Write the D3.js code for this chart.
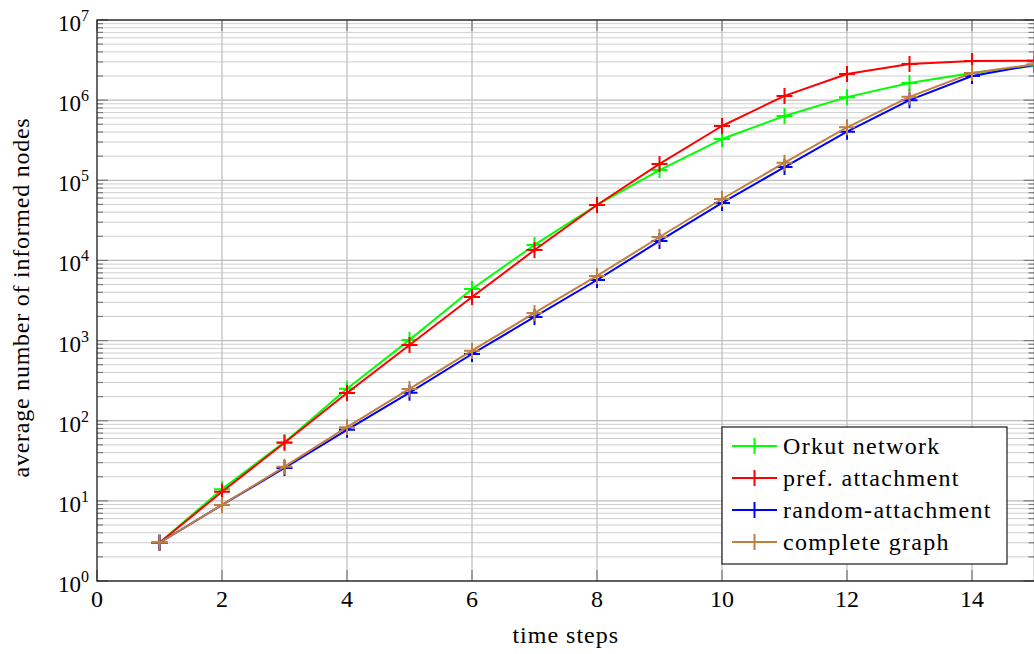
<!DOCTYPE html>
<html>
<head>
<meta charset="utf-8">
<script src="https://cdn.jsdelivr.net/npm/d3@7"></script>
<style>
  html, body { margin: 0; padding: 0; background: #fff; overflow: hidden; }
</style>
</head>
<body>
<div id="chart"></div>
<script>
// time steps on the x axis
const steps = [1, 2, 3, 4, 5, 6, 7, 8, 9, 10, 11, 12, 13, 14, 15];

// average number of informed nodes per model
const orkut = [3, 14, 54, 250, 1020, 4400, 15600, 49200, 134000, 327000, 635000, 1090000, 1640000, 2180000, 2670000];
const prefAttachment = [3, 13, 53, 222, 880, 3500, 13500, 49200, 160000, 476000, 1130000, 2120000, 2830000, 3080000, 3100000];
const randomAttachment = [3, 8.9, 25.7, 77, 224, 680, 1970, 5700, 17500, 52100, 146000, 404000, 1000000, 2000000, 2750000];
const completeGraph = [3, 8.9, 26.7, 83, 249, 748, 2210, 6400, 19600, 58400, 166000, 458000, 1100000, 2180000, 2800000];

const seriesNames = ["Orkut network", "pref. attachment", "random-attachment", "complete graph"];
const seriesColors = ["#00ff00", "#ff0000", "#0000ff", "#bf8040"];

const xTicks = [0, 2, 4, 6, 8, 10, 12, 14];
const yExponents = [0, 1, 2, 3, 4, 5, 6, 7];

const width = 1034;
const height = 654;
const margin = { top: 20, right: -0.5, bottom: 73, left: 97 };

const svg = d3.select("#chart").append("svg")
    .attr("width", width)
    .attr("height", height)
    .attr("font-family", "'Times New Roman', 'Liberation Serif', serif");

const x = d3.scaleLinear().domain([0, 15]).range([margin.left, width - margin.right]);
const y = d3.scaleLog().domain([1, 1e7]).range([height - margin.bottom, margin.top]);

const x0 = x.range()[0], x1 = x.range()[1];
const y0 = y.range()[0], y1 = y.range()[1];

// minor values between decades
const minorVals = [];
for (let e = 0; e < 7; e++) {
    for (let m = 2; m <= 9; m++) minorVals.push(m * Math.pow(10, e));
}

const grid = svg.append("g");

grid.selectAll("line.ymin")
    .data(minorVals)
    .enter()
    .append("line")
    .attr("x1", x0).attr("x2", x1)
    .attr("y1", d => y(d)).attr("y2", d => y(d))
    .style("stroke", "#cfcfcf")
    .style("stroke-width", 1);

grid.selectAll("line.ymaj")
    .data(yExponents)
    .enter()
    .append("line")
    .attr("x1", x0).attr("x2", x1)
    .attr("y1", d => y(Math.pow(10, d))).attr("y2", d => y(Math.pow(10, d)))
    .style("stroke", "#bdbdbd")
    .style("stroke-width", 1.2);

grid.selectAll("line.xmaj")
    .data(xTicks.filter(d => d > 0))
    .enter()
    .append("line")
    .attr("x1", d => x(d)).attr("x2", d => x(d))
    .attr("y1", y0).attr("y2", y1)
    .style("stroke", "#bdbdbd")
    .style("stroke-width", 1.2);

// ticks drawn inside the frame
const ticks = svg.append("g").style("stroke", "#7a7a7a").style("stroke-width", 1.2);

xTicks.forEach(d => {
    ticks.append("line").attr("x1", x(d)).attr("x2", x(d)).attr("y1", y0).attr("y2", y0 - 11);
    ticks.append("line").attr("x1", x(d)).attr("x2", x(d)).attr("y1", y1).attr("y2", y1 + 11);
});
yExponents.forEach(e => {
    const v = Math.pow(10, e);
    ticks.append("line").attr("x1", x0).attr("x2", x0 + 11).attr("y1", y(v)).attr("y2", y(v));
    ticks.append("line").attr("x1", x1).attr("x2", x1 - 11).attr("y1", y(v)).attr("y2", y(v));
});
minorVals.forEach(v => {
    ticks.append("line").attr("x1", x0).attr("x2", x0 + 6).attr("y1", y(v)).attr("y2", y(v));
    ticks.append("line").attr("x1", x1).attr("x2", x1 - 6).attr("y1", y(v)).attr("y2", y(v));
});

// frame
svg.append("rect")
    .attr("x", x0).attr("y", y1)
    .attr("width", x1 - x0).attr("height", y0 - y1)
    .style("fill", "none")
    .style("stroke", "#1a1a1a")
    .style("stroke-width", 1.3);

// tick labels
svg.selectAll("text.xt")
    .data(xTicks)
    .enter()
    .append("text")
    .attr("x", d => x(d))
    .attr("y", y0 + 26)
    .attr("text-anchor", "middle")
    .attr("font-size", 24)
    .text(d => d);

yExponents.forEach(e => {
    const t = svg.append("text")
        .attr("x", x0 - 8)
        .attr("y", y(Math.pow(10, e)) + 11)
        .attr("text-anchor", "end")
        .attr("font-size", 23);
    t.append("tspan").text("10");
    t.append("tspan")
        .attr("dy", -10)
        .attr("font-size", 16)
        .text(e);
});

// axis titles
svg.append("text")
    .attr("x", (x0 + x1) / 2)
    .attr("y", 643)
    .attr("text-anchor", "middle")
    .attr("font-size", 24)
    .attr("letter-spacing", 1)
    .text("time steps");

svg.append("text")
    .attr("transform", `translate(29, ${(y0 + y1) / 2 - 3}) rotate(-90)`)
    .attr("text-anchor", "middle")
    .attr("font-size", 24)
    .attr("letter-spacing", 0.75)
    .text("average number of informed nodes");

// series
const allSeries = [orkut, prefAttachment, randomAttachment, completeGraph];

const line = d3.line()
    .x((d, i) => x(steps[i]))
    .y(d => y(d));

const plot = svg.append("g");
const markSize = 8;

allSeries.forEach((vals, k) => {
    const color = seriesColors[k];
    plot.append("path")
        .datum(vals)
        .attr("d", line)
        .style("fill", "none")
        .style("stroke", color)
        .style("stroke-width", 2)
        .style("stroke-linejoin", "round");

    plot.selectAll(null)
        .data(vals)
        .enter()
        .append("path")
        .attr("d", (d, i) => {
            const cx = x(steps[i]), cy = y(d);
            return `M${cx - markSize},${cy}H${cx + markSize}M${cx},${cy - markSize}V${cy + markSize}`;
        })
        .style("stroke", color)
        .style("stroke-width", 2)
        .style("fill", "none");
});

// legend
const legend = svg.append("g").attr("transform", "translate(722, 427)");

legend.append("rect")
    .attr("width", 285)
    .attr("height", 137)
    .style("fill", "#fff")
    .style("stroke", "#1a1a1a")
    .style("stroke-width", 1.2);

seriesNames.forEach((name, k) => {
    const cy = 19 + k * 32;
    const color = seriesColors[k];
    legend.append("line")
        .attr("x1", 10).attr("x2", 55)
        .attr("y1", cy).attr("y2", cy)
        .style("stroke", color)
        .style("stroke-width", 2);
    legend.append("line")
        .attr("x1", 32.5).attr("x2", 32.5)
        .attr("y1", cy - markSize).attr("y2", cy + markSize)
        .style("stroke", color)
        .style("stroke-width", 2);
    legend.append("text")
        .attr("x", 61)
        .attr("y", cy + 8)
        .attr("font-size", 24)
        .attr("letter-spacing", 1.3)
        .text(name);
});
</script>
</body>
</html>
